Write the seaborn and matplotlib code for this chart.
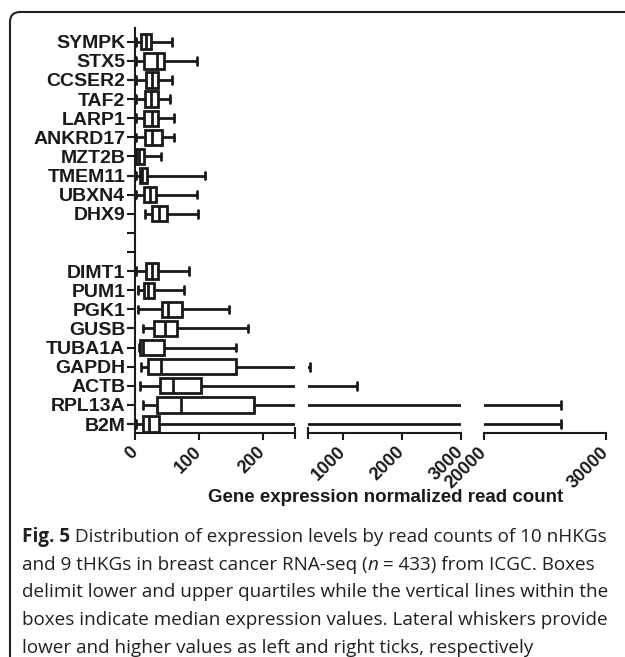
import numpy as np
import pandas as pd
import matplotlib
matplotlib.use("Agg")
import matplotlib.pyplot as plt
import seaborn as sns
from matplotlib.patches import FancyBboxPatch
from matplotlib.transforms import IdentityTransform

# --- DATA (five-number summaries) ---
NHKG = ['SYMPK', 'STX5', 'CCSER2', 'TAF2', 'LARP1', 'ANKRD17', 'MZT2B', 'TMEM11', 'UBXN4', 'DHX9']
THKG = ['DIMT1', 'PUM1', 'PGK1', 'GUSB', 'TUBA1A', 'GAPDH', 'ACTB', 'RPL13A', 'B2M']
GENES = NHKG + THKG

MINS = [2, 2, 2, 2, 2, 2, 1, 1, 2, 15.7,
        1, 4, 4, 12, 6, 10, 8, 13, 1]
Q1S = [9, 14, 17, 15.7, 14.6, 15.7, 1.6, 7.8, 14, 26,
       17, 14.6, 41.8, 29, 7.3, 19.8, 39, 34, 13]
MEDIANS = [16.7, 35, 26, 25, 26, 27, 6.8, 10.4, 23.5, 38,
           27, 19.8, 52, 47, 13, 40, 60, 72, 22]
Q3S = [25, 45, 35.5, 35.5, 36.6, 41.8, 14, 18, 32.4, 49.6,
       36.6, 30.3, 73, 65, 45.4, 158, 103, 186, 38]
MAXS = [58.5, 96.7, 58.5, 55, 61.6, 61, 40, 108.6, 96.7, 97.7,
        85, 77, 147, 177, 158, 440, 1233, 26300, 26300]

# two empty rows between the groups
ORDER = NHKG + [' ', '  '] + THKG

# broken x axis segments
SEGMENTS = [(0, 250), (400, 3000), (20000, 30000)]
SEG_TICKS = [[0, 100, 200], [1000, 2000, 3000], [20000, 30000]]
SEG_LABELS = [['0', '100', '200'], ['1000', '2000', '3000'], ['20000', '30000']]

CAPTION = [
    [('Fig. 5', 'bold', 'normal'), (' Distribution of expression levels by read counts of 10 nHKGs', 'normal', 'normal')],
    [('and 9 tHKGs in breast cancer RNA-seq (', 'normal', 'normal'), ('n', 'normal', 'italic'),
     (' = 433) from ICGC. Boxes', 'normal', 'normal')],
    [('delimit lower and upper quartiles while the vertical lines within the', 'normal', 'normal')],
    [('boxes indicate median expression values. Lateral whiskers provide', 'normal', 'normal')],
    [('lower and higher values as left and right ticks, respectively', 'normal', 'normal')],
]

# one row per summary value; percentiles of these 5 points give back the summary
rows = []
for i, g in enumerate(GENES):
    for v in (MINS[i], Q1S[i], MEDIANS[i], Q3S[i], MAXS[i]):
        rows.append({'gene': g, 'value': v})
df = pd.DataFrame(rows)

sns.set_theme(style="white")
plt.rcParams['font.family'] = ['Liberation Sans', 'DejaVu Sans']

INK = '#1a1a1a'
W, H = 625, 657
fig = plt.figure(figsize=(W / 100, H / 100), dpi=100)

# axes positions in pixels: (left, right)
seg_px = [(135, 295), (307.7, 460.7), (484, 605.7)]
top_px, bottom_px = 28, 433

axes = []
for k, ((x0, x1), (lo, hi)) in enumerate(zip(seg_px, SEGMENTS)):
    ax = fig.add_axes([x0 / W, 1 - bottom_px / H, (x1 - x0) / W, (bottom_px - top_px) / H])
    sns.boxplot(data=df, x='value', y='gene', order=ORDER, whis=(0, 100),
                width=0.8, color='white', linecolor=INK, linewidth=2.0,
                fliersize=0, ax=ax)
    ax.set_xlim(lo, hi)
    ax.set_ylim(20.47, -0.72)
    ax.set_xlabel('')
    ax.set_ylabel('')
    ax.set_facecolor('none')
    for s in ['top', 'right']:
        ax.spines[s].set_visible(False)
    ax.spines['bottom'].set_linewidth(1.5)
    ax.spines['bottom'].set_color(INK)
    ax.set_xticks(SEG_TICKS[k])
    ax.set_xticklabels(SEG_LABELS[k], rotation=45, ha='right', va='center',
                       rotation_mode='anchor', fontsize=13, fontweight='bold', color=INK)
    ax.tick_params(axis='x', which='major', bottom=True, direction='out', length=5,
                   width=1.5, color=INK, pad=7)
    # end caps of every axis segment
    ax.set_xticks([lo, hi], minor=True)
    ax.tick_params(axis='x', which='minor', bottom=True, direction='inout', length=9,
                   width=1.5, color=INK)
    if k == 0:
        ax.spines['left'].set_linewidth(1.5)
        ax.spines['left'].set_color(INK)
        ax.tick_params(axis='y', left=True, direction='out', length=6, width=1.5, color=INK, pad=1)
        for lab in ax.get_yticklabels():
            lab.set_fontsize(14)
            lab.set_fontweight('bold')
            lab.set_color(INK)
    else:
        ax.spines['left'].set_visible(False)
        ax.set_yticks([])
    axes.append(ax)

fig.text(386 / W, 1 - 497 / H, 'Gene expression normalized read count',
         ha='center', va='center', fontsize=13.5, fontweight='bold', color=INK)

# caption, drawn run by run so bold / italic pieces sit inline
renderer = fig.canvas.get_renderer()
cap_font = ['Open Sans', 'DejaVu Sans']
y = 537
for line in CAPTION:
    x = 22
    for txt, weight, style in line:
        t = fig.text(x / W, 1 - y / H, txt, ha='left', va='center', fontsize=13.6,
                     fontweight=weight, fontstyle=style, family=cap_font, color='#231f20')
        x += t.get_window_extent(renderer).width
    y += 27.7

# rounded frame, running off the right and bottom edges
frame = FancyBboxPatch((10, -40), 680, H - 12 + 40, boxstyle="round,pad=0,rounding_size=10",
                       transform=IdentityTransform(), fill=False, lw=1.5, ec='#222222')
fig.add_artist(frame)

plt.savefig('out.png', dpi=100)
